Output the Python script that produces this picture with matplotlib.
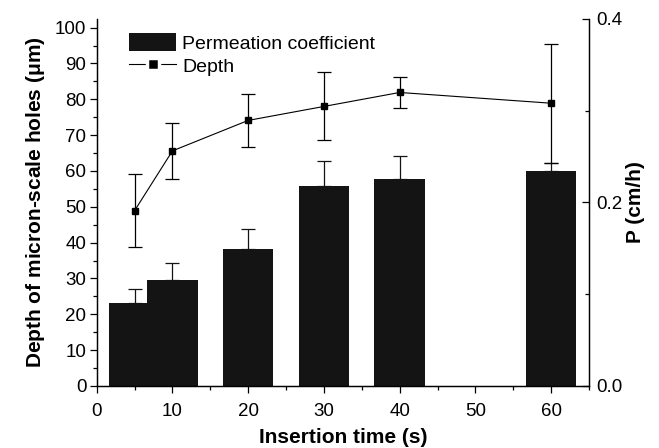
import numpy as np
import matplotlib.pyplot as plt
from matplotlib.ticker import MultipleLocator
from matplotlib.lines import Line2D

plt.rcParams['font.family'] = ['Liberation Sans', 'DejaVu Sans']

# data
times = [5, 10, 20, 30, 40, 60]
depth = [48.9, 65.6, 74.1, 78.0, 81.9, 78.9]
depth_err = [10.2, 7.75, 7.4, 9.5, 4.4, 16.6]
perm = [0.091, 0.1154, 0.1488, 0.218, 0.226, 0.234]
perm_err = [0.015, 0.019, 0.022, 0.027, 0.025, 0.0095]

fig = plt.figure(figsize=(6.59, 4.48), dpi=100)
ax = fig.add_axes([0.1467, 0.1384, 0.7471, 0.8192])
ax2 = ax.twinx()

bars = ax2.bar(times, perm, width=6.67, color='#141414', zorder=2,
               yerr=[np.zeros(len(perm)), perm_err], ecolor='#141414',
               error_kw=dict(elinewidth=0.9, capsize=5, capthick=0.9))

ax.set_zorder(ax2.get_zorder() + 1)
ax.patch.set_visible(False)
ax.errorbar(times, depth, yerr=depth_err, color='black', lw=0.8,
            marker='s', ms=5, elinewidth=0.9, capsize=5, capthick=0.9)

ax.set_xlim(0, 65)
ax.set_ylim(0, 102.4)
ax2.set_ylim(0, 0.4)

for a in (ax, ax2):
    a.spines['top'].set_visible(False)
    for s in a.spines.values():
        s.set_linewidth(0.9)

ax.xaxis.set_major_locator(MultipleLocator(10))
ax.xaxis.set_minor_locator(MultipleLocator(5))
ax.set_yticks(np.arange(0, 101, 10))
ax.yaxis.set_minor_locator(MultipleLocator(5))
ax2.set_yticks([0.0, 0.2, 0.4])
ax2.set_yticklabels(['0.0', '0.2', '0.4'])
ax2.yaxis.set_minor_locator(MultipleLocator(0.1))

ax.tick_params(which='both', direction='out', labelsize=13.5, width=0.9)
ax.tick_params(which='major', length=5)
ax.tick_params(which='minor', length=3)
ax.tick_params(axis='x', which='major', pad=7)
ax.tick_params(axis='y', which='major', pad=2.5)
ax2.tick_params(which='both', direction='in', labelsize=13.5, width=0.9)
ax2.tick_params(which='major', length=5, pad=5.5)
ax2.tick_params(which='minor', length=3)

ax.set_xlabel('Insertion time (s)', fontsize=15, fontweight='bold', labelpad=6)
ax.set_ylabel(r'Depth of micron-scale holes ($\mathregular{\mu}$m)', fontsize=15,
              fontweight='bold', labelpad=6)
ax2.set_ylabel('P (cm/h)', fontsize=15, fontweight='bold', labelpad=2)

depth_handle = Line2D([], [], color='black', lw=0.8, marker='s', ms=8,
                      mfc='black', mec='white', mew=2.5)
ax.legend([bars, depth_handle], ['Permeation coefficient', 'Depth'],
          loc='upper left', bbox_to_anchor=(0.035, 1.005),
          frameon=False, fontsize=14, handlelength=2.4, handleheight=1.1,
          handletextpad=0.3, labelspacing=0.15, borderpad=0.3)

fig.savefig('out.png', dpi=100)
